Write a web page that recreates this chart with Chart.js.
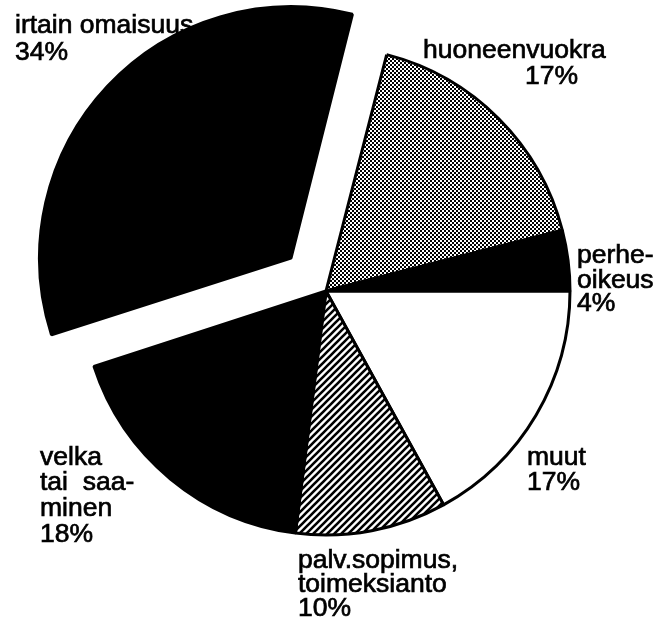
<!DOCTYPE html>
<html>
<head>
<meta charset="utf-8">
<script src="https://cdn.jsdelivr.net/npm/chart.js@4/dist/chart.umd.min.js"></script>
<style>
  html, body { margin: 0; padding: 0; background: #fff; }
  #wrap { width: 653px; height: 618px; position: relative; }
</style>
</head>
<body>
<div id="wrap"><canvas id="myChart"></canvas></div>
<script>
// slices, clockwise starting from 3 o'clock
var categories = ['muut', 'palv.sopimus, toimeksianto', 'velka tai saaminen', 'irtain omaisuus', 'huoneenvuokra', 'perhe-oikeus'];
var values = [17, 10, 18, 34, 17, 4];
// label text lines (the percentage is added from values)
var labelLines = [
    ['muut'],
    ['palv.sopimus,', 'toimeksianto'],
    ['velka', 'tai  saa-', 'minen'],
    ['irtain omaisuus'],
    ['huoneenvuokra'],
    ['perhe-', 'oikeus']
];

// where each label line goes: [x, baseline y] for each line incl. the % line
var labelPos = [
    [[527, 465], [527, 490]],
    [[298, 568], [298, 592], [298, 616]],
    [[40, 465], [40, 490], [40, 516], [40, 542]],
    [[15, 33], [15, 60]],
    [[423, 58], [525, 84]],
    [[577, 263], [577, 288], [577, 311]]
];

function dotPattern() {
    const c = document.createElement('canvas');
    c.width = 4; c.height = 4;
    const g = c.getContext('2d');
    g.fillStyle = '#000';
    g.fillRect(0, 0, 4, 4);
    g.fillStyle = '#fff';
    g.fillRect(0, 0, 2, 2);
    g.fillRect(2, 2, 2, 2);
    return g.createPattern(c, 'repeat');
}

function hatchPattern() {
    const s = 7;
    const c = document.createElement('canvas');
    c.width = s; c.height = s;
    const g = c.getContext('2d');
    g.fillStyle = '#fff';
    g.fillRect(0, 0, s, s);
    g.strokeStyle = '#000';
    g.lineWidth = 2.6;
    g.beginPath();
    g.moveTo(0, s); g.lineTo(s, 0);
    g.moveTo(-1, 1); g.lineTo(1, -1);
    g.moveTo(s - 1, s + 1); g.lineTo(s + 1, s - 1);
    g.stroke();
    return g.createPattern(c, 'repeat');
}

const labelPlugin = {
    id: 'pieLabels',
    afterDraw(chart) {
        const ctx = chart.ctx;
        ctx.save();
        ctx.fillStyle = '#000';
        ctx.strokeStyle = '#000';
        ctx.lineWidth = 0.7;
        ctx.font = '26.5px "Liberation Sans", Arial, sans-serif';
        ctx.textAlign = 'left';
        ctx.textBaseline = 'alphabetic';
        labelLines.forEach((lines, i) => {
            const all = lines.concat([values[i] + '%']);
            all.forEach((t, j) => {
                const p = labelPos[i][j];
                ctx.fillText(t, p[0], p[1]);
                ctx.strokeText(t, p[0], p[1]);
            });
        });
        ctx.restore();
    }
};

const data = {
    labels: categories,
    datasets: [{
        data: values,
        backgroundColor: ['#ffffff', hatchPattern(), '#000000', '#000000', dotPattern(), '#000000'],
        borderColor: '#000000',
        borderWidth: 3,
        // Chart.js moves a slice by offset / 4 pixels
        offset: [0, 0, 0, 192, 0, 0],
        clip: false
    }]
};

const config = {
    type: 'pie',
    data: data,
    options: {
        responsive: true,
        maintainAspectRatio: false,
        animation: false,
        events: [],
        rotation: 90,
        radius: 244,
        layout: { padding: { left: 0, right: 1, top: 0, bottom: 36 } },
        plugins: {
            legend: { display: false },
            tooltip: { enabled: false }
        }
    },
    plugins: [labelPlugin]
};

const myChart = new Chart(document.getElementById('myChart'), config);
</script>
</body>
</html>
